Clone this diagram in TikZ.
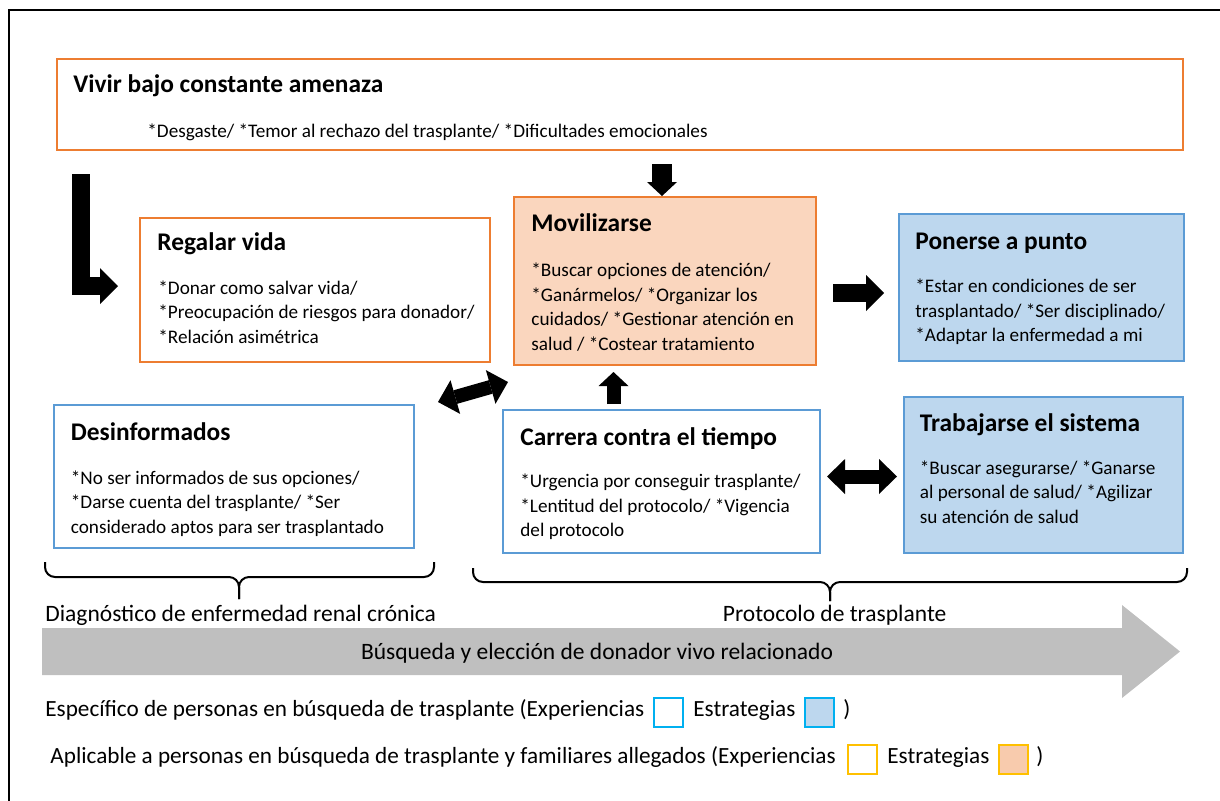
\documentclass[tikz,border=0pt]{standalone}
\usepackage{fontspec}
\setmainfont{Carlito}
\usepackage{tikz}
\definecolor{orangerand}{RGB}{237,125,49}
\definecolor{lachs}{RGB}{250,214,190}
\definecolor{lachslegende}{RGB}{248,203,173}
\definecolor{hellblau}{RGB}{189,215,238}
\definecolor{blaurand}{RGB}{91,155,213}
\definecolor{cyanrand}{RGB}{0,176,240}
\definecolor{gelbrand}{RGB}{255,192,0}
\definecolor{grau}{RGB}{191,191,191}
\usetikzlibrary{arrows.meta, calc}

\begin{document}
\begin{tikzpicture}[x=0.5pt, y=-0.5pt,
				kasten/.style={draw=#1, line width=1pt, inner sep=0pt, anchor=north west},
				titel/.style={font=\fontsize{12.7}{15}\selectfont\bfseries, anchor=base west, inner sep=0pt},
				punkte/.style={font=\fontsize{9.6}{12.25}\selectfont, align=left, anchor=base west, inner sep=0pt},
				etikett/.style={font=\fontsize{11.75}{14}\selectfont, anchor=base west, inner sep=0pt},
				legende/.style={font=\fontsize{11.6}{14}\selectfont, anchor=base west, inner sep=0pt},
				feld/.style={draw=#1, line width=1pt, minimum size=14.5pt, inner sep=0pt, anchor=north west},
				pfeil/.style={line width=9pt, -{Triangle[length=9pt, width=18pt, line width=0pt]}},
				pfeilklein/.style={line width=#1, -{Triangle[length=7pt, width=15pt, line width=0pt]}},
				doppelpfeil/.style={line width=7pt, {Triangle[length=9pt, width=17.5pt, line width=0pt]}-{Triangle[length=9pt, width=17.5pt, line width=0pt]}}]
				\useasboundingbox (0,0) rectangle (1220,800);
				%Rahmen
				\draw[line width=1pt] (9,820) -- (9,10) -- (1240,10);
				% Kaesten
				\node[kasten=orangerand, minimum width=563pt, minimum height=45.5pt] (vivir) at (56,58) {};
				\node[kasten=orangerand, fill=lachs, minimum width=151pt, minimum height=84pt] (movil) at (513,196) {};
				\node[kasten=orangerand, minimum width=175pt, minimum height=72pt] (regal) at (139,217) {};
				\node[kasten=blaurand, fill=hellblau, minimum width=142.5pt, minimum height=73.5pt] (ponerse) at (898,213) {};
				\node[kasten=blaurand, fill=hellblau, minimum width=139.5pt, minimum height=78pt] (trabajo) at (903,396) {};
				\node[kasten=blaurand, minimum width=158.5pt, minimum height=71.5pt] (carrera) at (502,409) {};
				\node[kasten=blaurand, minimum width=180pt, minimum height=71.5pt] (desinf) at (53,404) {};
				% Beschriftung der Kaesten (base = letzte Zeile)
				\node[titel] (vivirT) at (73,92) {Vivir bajo constante amenaza};
				\node[punkte] (vivirP) at (147,137) {*Desgaste/ *Temor al rechazo del trasplante/ *Dificultades emocionales};
				\node[titel] (movilT) at (531,231.5) {Movilizarse};
				\node[punkte] (movilP) at (531,350) {*Buscar opciones de atención/\\*Ganármelos/ *Organizar los\\cuidados/ *Gestionar atención en\\salud / *Costear tratamiento};
				\node[titel] (regalT) at (157,250.5) {Regalar vida};
				\node[punkte] (regalP) at (158,343) {*Donar como salvar vida/\\*Preocupación de riesgos para donador/\\*Relación asimétrica};
				\node[titel] (ponerseT) at (915,249.5) {Ponerse a punto};
				\node[punkte] (ponerseP) at (915,341.5) {*Estar en condiciones de ser\\trasplantado/ *Ser disciplinado/\\*Adaptar la enfermedad a mi};
				\node[titel] (trabajoT) at (919.5,431) {Trabajarse el sistema};
				\node[punkte] (trabajoP) at (919.5,523) {*Buscar asegurarse/ *Ganarse\\al personal de salud/ *Agilizar\\su atención de salud};
				\node[titel] (carreraT) at (520,445) {Carrera contra el tiempo};
				\node[punkte] (carreraP) at (520,536.5) {*Urgencia por conseguir trasplante/\\*Lentitud del protocolo/ *Vigencia\\del protocolo};
				\node[titel] (desinfT) at (70.5,440) {Desinformados};
				\node[punkte] (desinfP) at (70.5,533) {*No ser informados de sus opciones/\\*Darse cuenta del trasplante/ *Ser\\considerado aptos para ser trasplantado};
				% Pfeile
				\coordinate (l1) at ($(vivir.south west)+(25,23)$);
				\coordinate (l2) at ($(regal.west)+(-21,-4)$);
				\draw[pfeil] (l1) |- (l2);
				\coordinate (v1) at ($(vivir.south west)+(606,13)$);
				\draw[pfeilklein=10pt] (v1) -- (v1 |- movil.north);
				\coordinate (r1) at ($(movil.east)+(16,12)$);
				\draw[pfeil] (r1) -- ($(r1 -| ponerse.west)+(-14,0)$);
				\coordinate (u1) at ($(carrera.north west)+(111.5,-5)$);
				\draw[pfeilklein=7pt] (u1) -- ($(u1 |- movil.south)+(0,6)$);
				\coordinate (h1) at ($(carrera.east)+(6,-5)$);
				\draw[doppelpfeil] (h1) -- ($(h1 -| trabajo.west)+(-6,0)$);
				\coordinate (d1) at ($(desinf.north east)+(23,-2)$);
				\coordinate (d2) at ($(movil.south west)+(-5,16)$);
				\draw[doppelpfeil] (d1) -- (d2);
				% Klammern
				\draw[line width=1pt, rounded corners=5] (45,562) -- (45,577) -- (239,577) -- (239,599);
				\draw[line width=1pt, rounded corners=5] (434,562) -- (434,577) -- (239,577) -- (239,599);
				\draw[line width=1pt, rounded corners=5] (473,568) -- (473,582) -- (830,582) -- (830,601);
				\draw[line width=1pt, rounded corners=5] (1187,568) -- (1187,582) -- (830,582) -- (830,601);
				\node[etikett] (diagnose) at (45,621.5) {Diagnóstico de enfermedad renal crónica};
				\node[etikett] (protokoll) at (722.5,621.5) {Protocolo de trasplante};
				% Zeitpfeil
				\fill[grau] (42,628) -- (1122,628) -- (1122,605) -- (1180,651.5) -- (1122,698) -- (1122,675) -- (42,675) -- cycle;
				\node[font=\fontsize{11.75}{14}\selectfont, inner sep=0pt] (suche) at (597,653) {Búsqueda y elección de donador vivo relacionado};
				% Legende
				\node[legende] (spezifisch) at (45,716.5) {Específico de personas en búsqueda de trasplante (Experiencias};
				\node[feld=cyanrand] (feld1) at (653,697) {};
				\node[legende] (strat1) at (693,716.5) {Estrategias};
				\node[feld=cyanrand, fill=hellblau] (feld2) at (804,697) {};
				\node[legende] (klammer1) at (843,716.5) {)};
				\node[legende] (anwendbar) at (50,763.5) {Aplicable a personas en búsqueda de trasplante y familiares allegados (Experiencias};
				\node[feld=gelbrand] (feld3) at (847,743.5) {};
				\node[legende] (strat2) at (887,763.5) {Estrategias};
				\node[feld=gelbrand, fill=lachslegende] (feld4) at (997.5,743.5) {};
				\node[legende] (klammer2) at (1036,763.5) {)};
			\end{tikzpicture}
\end{document}
